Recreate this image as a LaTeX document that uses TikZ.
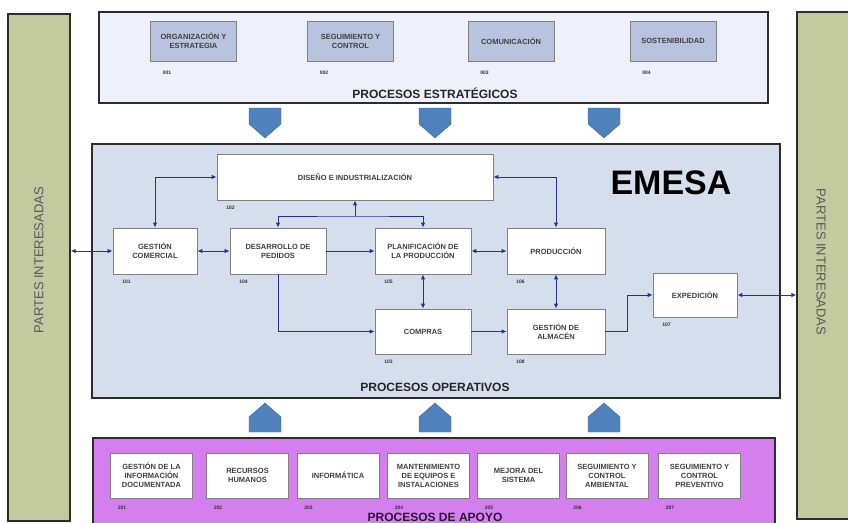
\documentclass[tikz,border=0pt]{standalone}
\usepackage{fontspec}
\setmainfont{Liberation Sans}
\usepackage{tikz}
\usetikzlibrary{arrows.meta}
\usepackage{xcolor}
\definecolor{partes}{RGB}{196,202,160}
\definecolor{estrat}{RGB}{238,240,250}
\definecolor{estratbox}{RGB}{184,196,222}
\definecolor{operat}{RGB}{212,222,236}
\definecolor{violeta}{RGB}{212,126,240}
\definecolor{pent}{RGB}{79,129,189}
\definecolor{linea}{RGB}{40,50,140}
\definecolor{borde}{RGB}{45,45,45}
\tikzset{
    panel/.style={draw=borde,line width=1.6pt},
    barra/.style={draw=borde,line width=1.4pt,fill=partes},
    caja/.style={draw=gray,line width=0.8pt,fill=white,align=center,inner sep=1pt,
        font=\fontsize{7.5}{9}\selectfont\bfseries,text=black!75},
    num/.style={font=\fontsize{5}{6}\selectfont\bfseries,text=black!80},
    titulo/.style={font=\fontsize{12}{14}\selectfont\bfseries,text=black!85},
    partestxt/.style={font=\fontsize{13}{15}\selectfont,text=black!65},
    flujo/.style={draw=linea,line width=0.9pt,>={Latex[length=5pt,width=4.5pt]}},
}
\newcommand{\estrat}[4] {
    \node[caja,fill=estratbox,minimum width=86pt,minimum height=40pt]
        (#1) at (#2,41) {#3};
    \node[num] (#1n) at ([xshift=17pt,yshift=-11pt]#1.south west) {#4};
}
\newcommand{\operat}[7] {
    \node[caja,minimum width=#4,minimum height=#5]
        (#1) at (#2,#3) {#6};
    \node[num] (#1n) at ([xshift=14pt,yshift=-7pt]#1.south west) {#7};
}
\newcommand{\soporte}[4] {
    \node[caja,minimum width=82pt,minimum height=45pt]
        (#1) at (#2,475.5) {#3};
    \node[num] (#1n) at ([xshift=12pt,yshift=-9pt]#1.south west) {#4};
}
\newcommand{\pentdown}[1] {
    \filldraw[fill=pent,draw=pent!80!black,line width=0.4pt]
        ({#1-16},108) -- ({#1+16},108) -- ({#1+16},124) -- (#1,138) -- ({#1-16},124) -- cycle;
}
\newcommand{\pentup}[1] {
    \filldraw[fill=pent,draw=pent!80!black,line width=0.4pt]
        ({#1-16},432) -- ({#1+16},432) -- ({#1+16},417) -- (#1,403) -- ({#1-16},417) -- cycle;
}
\begin{document}
\begin{tikzpicture}[x=1pt,y=-1pt]
    \useasboundingbox (0,0) rectangle (848,522);
    \clip (0,0) rectangle (848,522);
    \fill[white] (0,0) rectangle (848,522);
    \node[barra,minimum width=62pt,minimum height=507pt] (lbar) at (39,267.5) {};
    \node[partestxt,rotate=90] (lbartxt) at (39,260) {PARTES INTERESADAS};
    \node[barra,minimum width=54pt,minimum height=507pt] (rbar) at (824,265.5) {};
    \node[partestxt,rotate=-90] (rbartxt) at (821,262) {PARTES INTERESADAS};
    \draw[panel,fill=estrat] (99,12) rectangle (768,103);
    \draw[panel,fill=operat] (92,144) rectangle (780,398);
    \draw[panel,fill=violeta] (93,438) rectangle (775,540);
    \foreach \x in {265,435,604}
        \pentdown{\x};
    \foreach \x in {265,435,604}
        \pentup{\x};
    \estrat{org}{193.5}{ORGANIZACIÓN Y\\ESTRATEGIA}{001};
    \estrat{seg}{350.5}{SEGUIMIENTO Y\\CONTROL}{002};
    \estrat{com}{511}{COMUNICACIÓN}{003};
    \estrat{sos}{673}{SOSTENIBILIDAD}{004};
    \node[titulo] (tit1) at (435,93) {PROCESOS ESTRATÉGICOS};
    \node[font=\fontsize{34}{34}\selectfont\bfseries] (emesa) at (671,183) {EMESA};
    \operat{dis}{355}{177}{276pt}{46pt}{DISEÑO E INDUSTRIALIZACIÓN}{102};
    \operat{gc}{155}{251}{84pt}{46pt}{GESTIÓN\\COMERCIAL}{101};
    \operat{dp}{278}{251}{96pt}{46pt}{DESARROLLO DE\\PEDIDOS}{104};
    \operat{plan}{423}{251}{96pt}{46pt}{PLANIFICACIÓN DE\\LA PRODUCCIÓN}{105};
    \operat{prod}{556}{251}{98pt}{46pt}{PRODUCCIÓN}{106};
    \operat{comp}{423}{331.5}{96pt}{45pt}{COMPRAS}{103};
    \operat{alm}{556}{331.5}{98pt}{45pt}{GESTIÓN DE\\ALMACÉN}{108};
    \operat{exp}{695}{295}{84pt}{44pt}{EXPEDICIÓN}{107};
    \node[titulo] (tit2) at (435,387) {PROCESOS OPERATIVOS};
    \draw[flujo,<->] (gc.west -| lbar.east) -- (gc.west);
    \draw[flujo,<->] (gc) -- (dp);
    \draw[flujo,->] (dp) -- (plan);
    \draw[flujo,<->] (plan) -- (prod);
    \draw[flujo,<->] (gc.north) |- (dis.west);
    \coordinate (brk) at (355,216);
    \draw[flujo,<->] (dp.north) |- (brk) -| (plan.north);
    \draw[flujo,->] (brk) -- (dis.south);
    \draw[flujo,<->] (dis.east) -| (prod.north);
    \draw[flujo,<->] (plan) -- (comp);
    \draw[flujo,<->] (prod) -- (alm);
    \draw[flujo,->] (dp.south) |- (comp.west);
    \draw[flujo,->] (comp) -- (alm);
    \draw[flujo,->] (alm.east) -- ++(22,0) |- (exp.west);
    \draw[flujo,<->] (exp.east) -- (exp.east -| rbar.west);
    \soporte{doc}{151.5}{GESTIÓN DE LA\\INFORMACIÓN\\DOCUMENTADA}{201};
    \soporte{rrhh}{247.5}{RECURSOS\\HUMANOS}{202};
    \soporte{inf}{338}{INFORMÁTICA}{203};
    \soporte{mant}{428.5}{MANTENIMIENTO\\DE EQUIPOS E\\INSTALACIONES}{204};
    \soporte{mej}{518.5}{MEJORA DEL\\SISTEMA}{205};
    \soporte{amb}{607}{SEGUIMIENTO Y\\CONTROL\\AMBIENTAL}{206};
    \soporte{prev}{699.5}{SEGUIMIENTO Y\\CONTROL\\PREVENTIVO}{207};
    \node[titulo,text=black!80!violeta] (tit3) at (435,517) {PROCESOS DE APOYO};
\end{tikzpicture}
\end{document}
